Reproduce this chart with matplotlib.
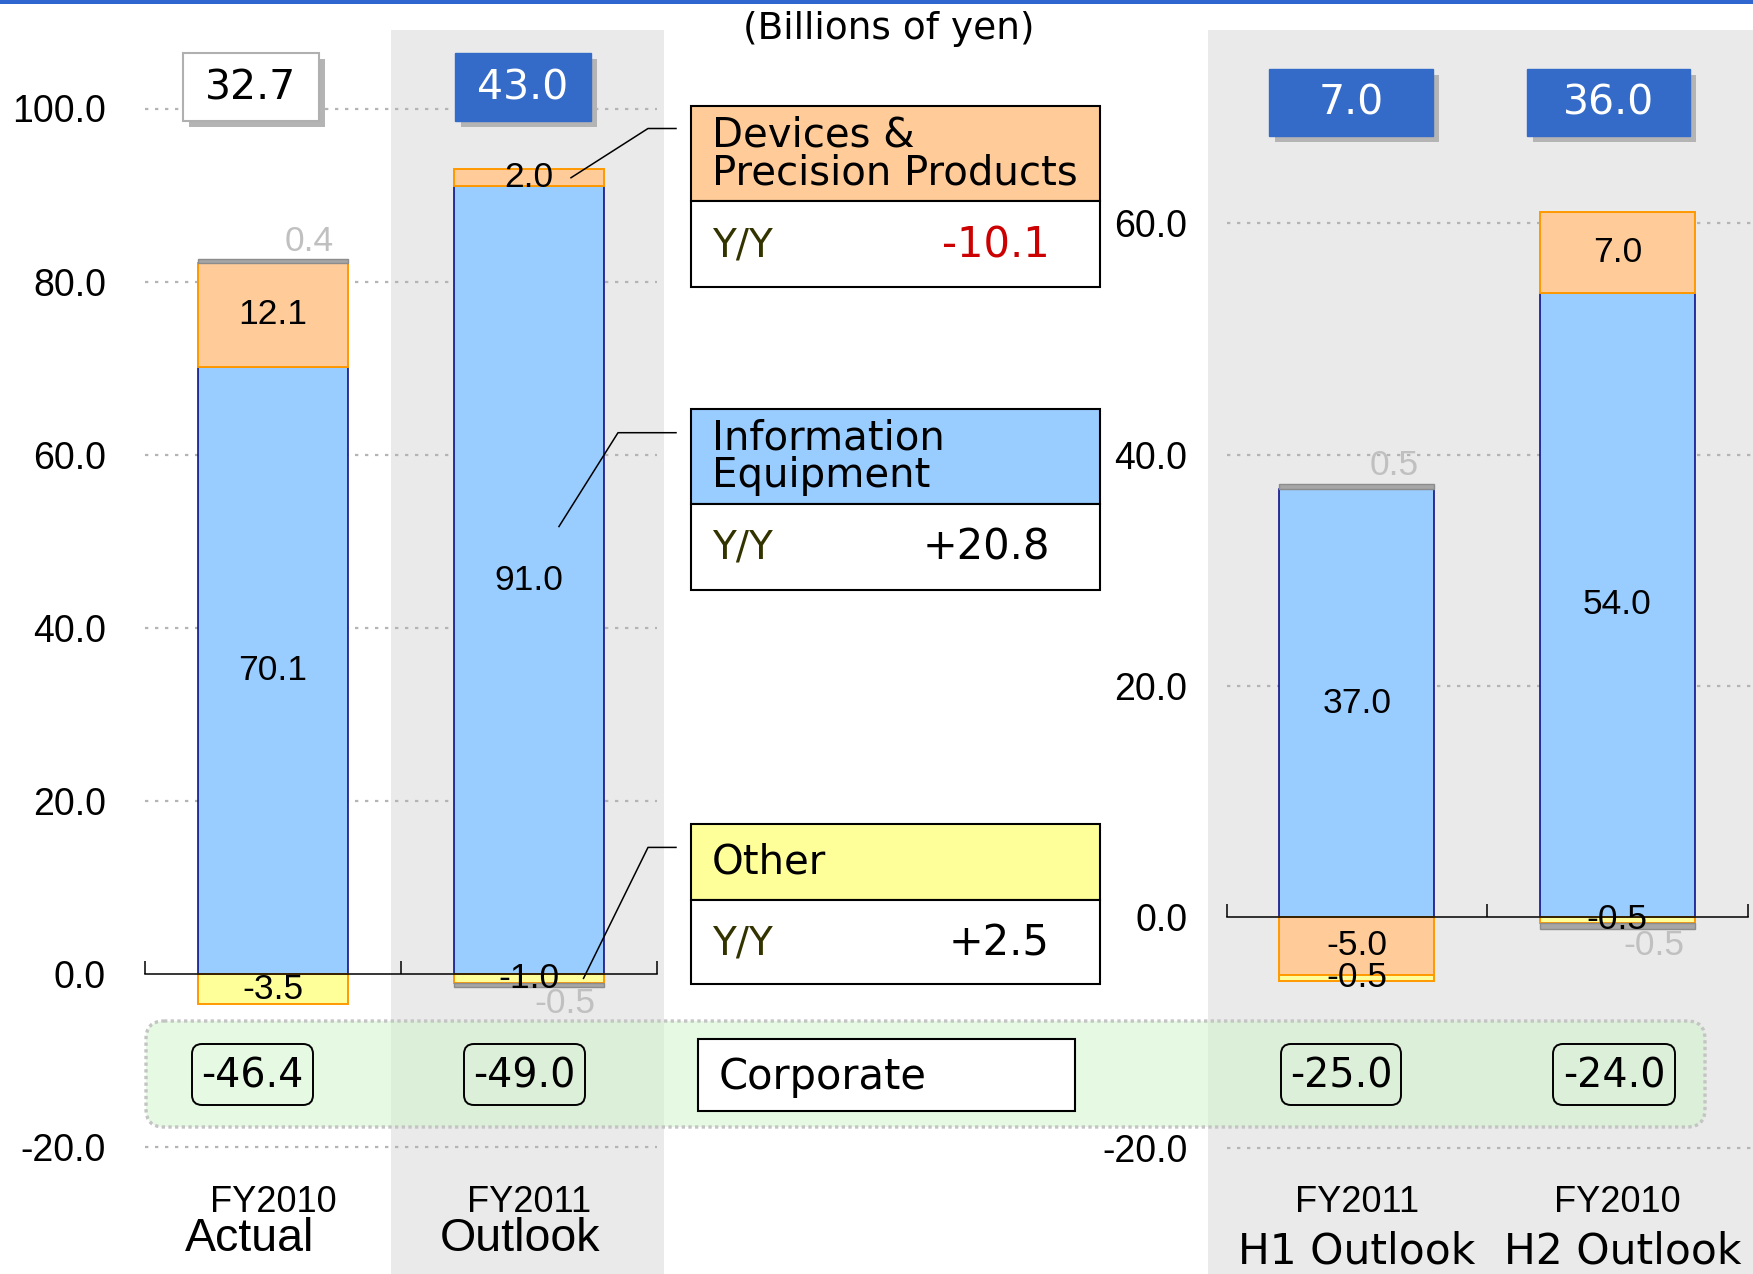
import matplotlib
matplotlib.use("Agg")
import matplotlib.pyplot as plt
from matplotlib.patches import Rectangle, FancyBboxPatch

# ---- data (billions of yen) ----
left_top = ["FY2010", "FY2011"]
left_bottom = ["Actual", "Outlook"]
info_left = [70.1, 91.0]
devices_left = [12.1, 2.0]
other_left = [-3.5, -1.0]
elim_left = [0.4, -0.5]
corp_left = [-46.4, -49.0]
total_left = [32.7, 43.0]

right_top = ["FY2011", "FY2010"]
right_bottom = ["H1 Outlook", "H2 Outlook"]
info_right = [37.0, 54.0]
devices_right = [-5.0, 7.0]
other_right = [-0.5, -0.5]
elim_right = [0.5, -0.5]
corp_right = [-25.0, -24.0]
total_right = [7.0, 36.0]

seg_names = ["Devices &\nPrecision Products", "Information\nEquipment", "Other"]
seg_yy = ["-10.1", "+20.8", "+2.5"]

left_ticks = [-20, 0, 20, 40, 60, 80, 100]
right_ticks = [-20, 0, 20, 40, 60]

# colours
c_info, e_info = "#99ccff", "#000080"
c_dev, e_dev = "#ffcc99", "#ff9900"
c_oth, e_oth = "#ffff99", "#ff9900"
c_elim, e_elim = "#a6a6a6", "#8c8c8c"
blue = "#356bc8"
panel = "#eaeaea"

W, H = 1753, 1274
fig = plt.figure(figsize=(W / 100, H / 100), dpi=100)
SANS = ["Liberation Sans", "DejaVu Sans"]
GOTH = ["DejaVu Sans"]

# background panels (pixel coords)
bg = fig.add_axes([0, 0, 1, 1], zorder=0)
bg.set_xlim(0, W)
bg.set_ylim(H, 0)
bg.axis("off")
bg.add_patch(Rectangle((391, 30), 273, H - 30, color=panel, lw=0))
bg.add_patch(Rectangle((1208.5, 30), W - 1208.5, H - 30, color=panel, lw=0))


def make_axes(x0, x1, y0px, scale, xmax, ticks):
    ax = fig.add_axes([x0 / W, 0, (x1 - x0) / W, 1], zorder=1)
    ax.set_facecolor("none")
    ax.set_xlim(0, xmax)
    ax.set_ylim(-(H - y0px) / scale, y0px / scale)
    for s in ["left", "right", "top"]:
        ax.spines[s].set_visible(False)
    ax.spines["bottom"].set_position(("data", 0))
    ax.spines["bottom"].set_bounds(0, 2)
    ax.spines["bottom"].set_linewidth(1.1)
    ax.spines["bottom"].set_zorder(5)
    ax.set_xticks([0, 1, 2])
    ax.set_xticklabels([])
    ax.tick_params(axis="x", direction="in", length=9.4, width=1.1)
    ax.set_yticks(ticks)
    ax.set_yticklabels([f"{t:.1f}" for t in ticks], family=SANS)
    ax.tick_params(axis="y", length=0, pad=28, labelsize=27)
    grid = [t for t in ticks if t != 0]
    ax.hlines(grid, 0, xmax, colors="#b4b4b4", linestyles=(0, (1.5, 3)), lw=1.6, zorder=1)
    return ax


axL = make_axes(145, 657, 974, 8.655, 2.0, left_ticks)
axR = make_axes(1226.5, 1753, 917, 11.56, 2.021, right_ticks)


def stack(ax, info, dev, oth, elim, width, dx):
    xs = [0.5, 1.5]
    pos = [0.0, 0.0]
    neg = [0.0, 0.0]
    series = [(info, c_info, e_info, 1.1, False),
              (dev, c_dev, e_dev, 1.4, False),
              (oth, c_oth, e_oth, 1.4, False),
              (elim, c_elim, e_elim, 1.0, True)]
    for vals, fc, ec, lw, is_elim in series:
        for i, v in enumerate(vals):
            base = pos[i] if v >= 0 else neg[i]
            ax.bar(xs[i], v, width, bottom=base, color=fc, edgecolor=ec, linewidth=lw, zorder=3)
            end = base + v
            if is_elim:
                ax.annotate(f"{v:.1f}", (xs[i] + dx, end), xytext=(0, 1 if v >= 0 else 0),
                            textcoords="offset points", ha="center",
                            va="bottom" if v >= 0 else "top",
                            fontsize=25.5, color="#c0c0c0", family=SANS, zorder=6)
            else:
                ax.text(xs[i], base + v / 2, f"{v:.1f}", ha="center", va="center",
                        fontsize=25.5, family=SANS, zorder=6)
            if v >= 0:
                pos[i] = end
            else:
                neg[i] = end


stack(axL, info_left, devices_left, other_left, elim_left, 0.585, 0.14)
stack(axR, info_right, devices_right, other_right, elim_right, 0.595, 0.142)

# overlay for boxes and labels (pixel coords)
ov = fig.add_axes([0, 0, 1, 1], zorder=5)
ov.set_facecolor("none")
ov.set_xlim(0, W)
ov.set_ylim(H, 0)
ov.axis("off")

ov.add_patch(Rectangle((0, 0), W, 3.5, color="#2f66d0", lw=0))
ov.text(889, 29, "(Billions of yen)", ha="center", va="center", fontsize=27, family=GOTH)

# corporate band
ov.add_patch(FancyBboxPatch((146, 1021), 1559, 106, boxstyle="round,pad=0,rounding_size=18",
                            facecolor=(0.82, 0.96, 0.8, 0.55), edgecolor="#c4c4c4",
                            linestyle=(0, (1, 1)), lw=2.4))
corp_boxes = [(192, 121), (464, 121), (1281, 120), (1553, 122)]
for (bx, bw), v in zip(corp_boxes, corp_left + corp_right):
    ov.add_patch(FancyBboxPatch((bx, 1044), bw, 61, boxstyle="round,pad=0,rounding_size=10",
                                facecolor="none", edgecolor="black", lw=1.4))
    ov.text(bx + bw / 2, 1077, f"{v:.1f}", ha="center", va="center", fontsize=28.5, family=GOTH)
ov.add_patch(Rectangle((698, 1039), 377.5, 72, facecolor="white", edgecolor="black", lw=1.5))
ov.text(719, 1077, "Corporate", ha="left", va="center", fontsize=30, family=GOTH)

# total boxes on top
tot_boxes = [(183, 53, 136, 68), (455, 53, 136, 68), (1269, 69, 164, 67), (1527, 69, 163, 67)]
for i, ((bx, by, bw, bh), v) in enumerate(zip(tot_boxes, total_left + total_right)):
    ov.add_patch(Rectangle((bx + 6, by + 6), bw, bh, color="#b4b4b4", lw=0))
    if i == 0:
        ov.add_patch(Rectangle((bx, by), bw, bh, facecolor="white", edgecolor="#b0b0b0", lw=1.5))
        tc = "black"
    else:
        ov.add_patch(Rectangle((bx, by), bw, bh, facecolor=blue, edgecolor=blue, lw=1))
        tc = "white"
    ov.text(bx + bw / 2, by + bh / 2 + 1, f"{v:.1f}", ha="center", va="center",
            fontsize=29.5, color=tc, family=GOTH)

# segment boxes with Y/Y
seg_boxes = [(106, 201, 287, c_dev), (409, 504, 590, c_info), (824, 900, 984, c_oth)]
for (t, m, b, fc), name, yy in zip(seg_boxes, seg_names, seg_yy):
    ov.add_patch(Rectangle((691, t), 409, m - t, facecolor=fc, edgecolor="black", lw=1.5))
    ov.add_patch(Rectangle((691, m), 409, b - m, facecolor="white", edgecolor="black", lw=1.5))
    ov.text(712, (t + m) / 2 + 1, name, ha="left", va="center", fontsize=29,
            family=GOTH, linespacing=0.92)
    ov.text(712, (m + b) / 2 + 1, "Y/Y", ha="left", va="center", fontsize=28,
            color="#333300", family=GOTH)
    ov.text(1050, (m + b) / 2 + 1, yy, ha="right", va="center", fontsize=30,
            color="#cc0000" if yy.startswith("-") else "black", family=GOTH)

# leader lines from bars to boxes
to_px = ov.transData.inverted()
anchors = [((1.664, info_left[1] + devices_left[1] / 2), (648, 128.5)),
           ((1.617, 51.7), (618, 432.7)),
           ((1.713, other_left[1] / 2), (648, 847.4))]
for pt, (ex, ey) in anchors:
    sx, sy = to_px.transform(axL.transData.transform(pt))
    ov.plot([sx, ex, 676], [sy, ey, ey], color="black", lw=1.1)

# category labels
for cx, top, bot, dx in [(0.5, left_top[0], left_bottom[0], -0.09),
                         (1.5, left_top[1], left_bottom[1], -0.035)]:
    px = to_px.transform(axL.transData.transform((cx, 0)))[0]
    pxb = to_px.transform(axL.transData.transform((cx + dx, 0)))[0]
    ov.text(px, 1202, top, ha="center", va="center", fontsize=26, family=SANS)
    ov.text(pxb, 1239, bot, ha="center", va="center", fontsize=33.5, family=SANS)
for cx, top, bot, dx in [(0.5, right_top[0], right_bottom[0], 0.0),
                         (1.5, right_top[1], right_bottom[1], 0.02)]:
    px = to_px.transform(axR.transData.transform((cx, 0)))[0]
    pxb = to_px.transform(axR.transData.transform((cx + dx, 0)))[0]
    ov.text(px, 1202, top, ha="center", va="center", fontsize=26, family=SANS)
    ov.text(pxb, 1252, bot, ha="center", va="center", fontsize=30.5, family=GOTH)

fig.savefig("out.png", dpi=100)
